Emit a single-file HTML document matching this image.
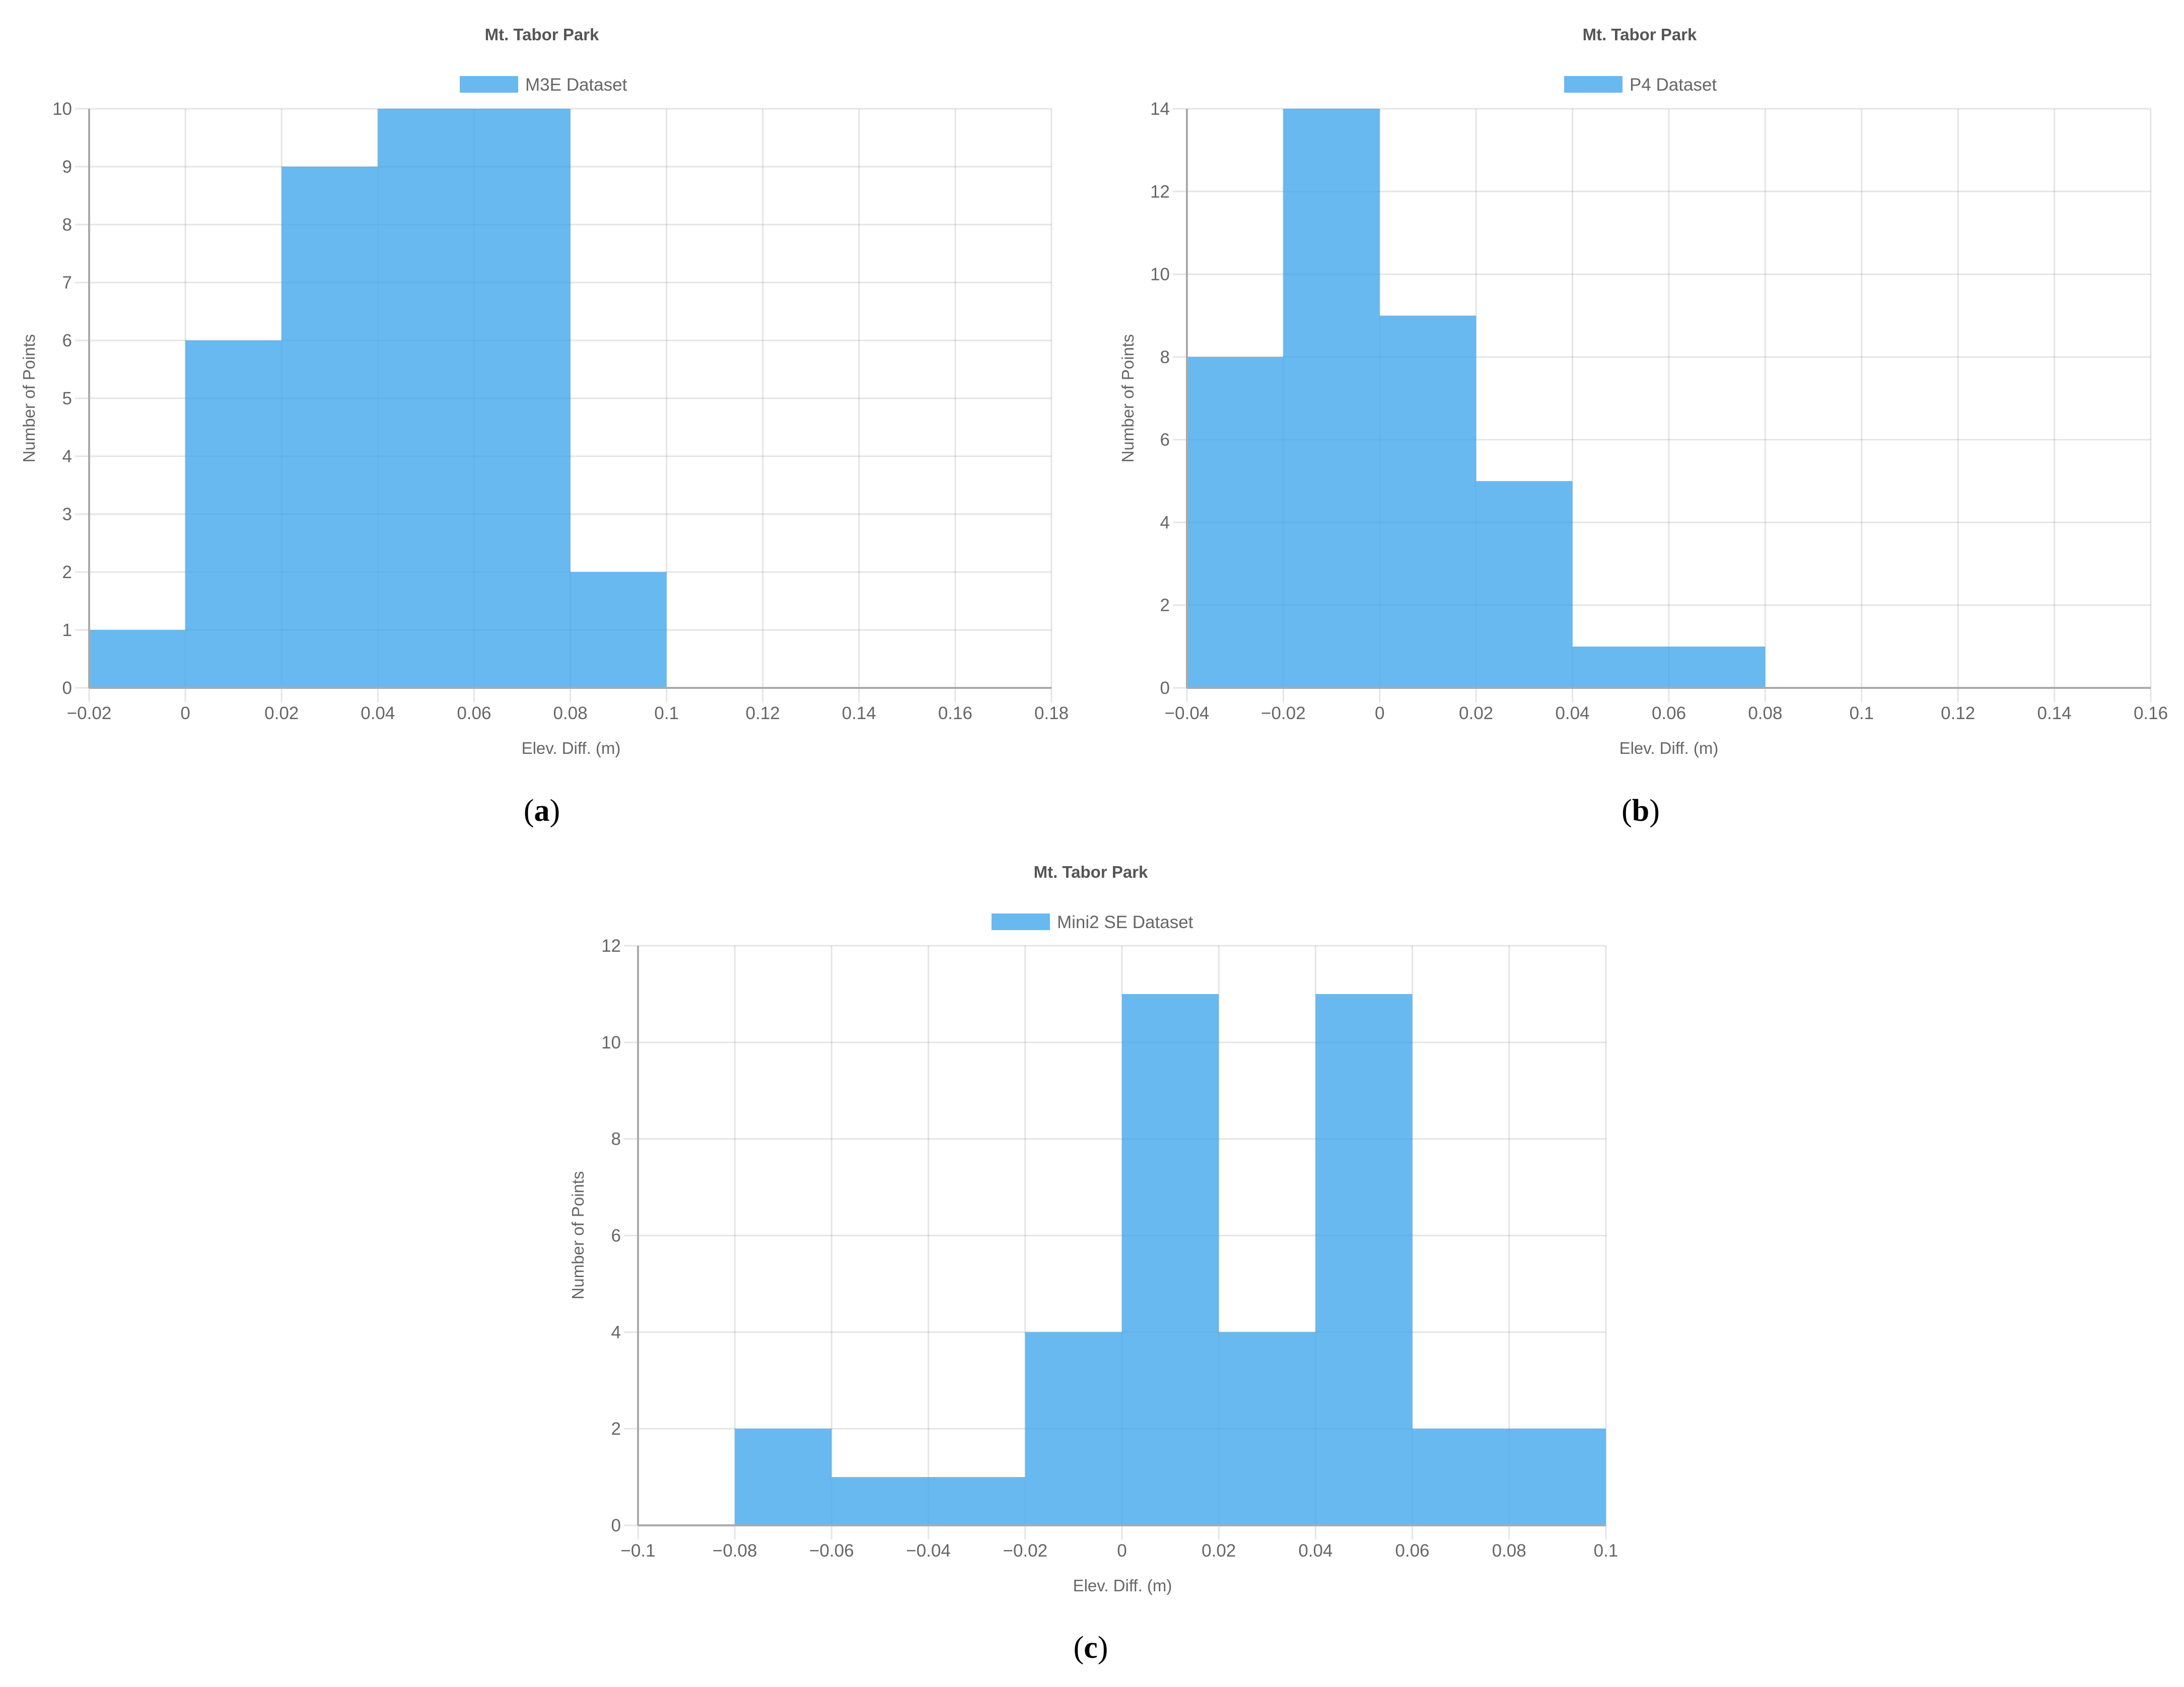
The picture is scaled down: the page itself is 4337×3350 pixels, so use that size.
<!DOCTYPE html>
<html><head><meta charset="utf-8"><style>
html,body{margin:0;padding:0;background:#fff;}
svg{display:block;font-family:"Liberation Sans",Arial,sans-serif;}
</style></head><body>
<svg id="fig" width="4337" height="3350" viewBox="0 0 4337 3350" xmlns="http://www.w3.org/2000/svg"></svg>
<script>
// Chart (a) data
const aCounts = [1, 6, 9, 10, 10, 2, 0, 0, 0, 0];
const aXTicks = [-0.02, 0, 0.02, 0.04, 0.06, 0.08, 0.1, 0.12, 0.14, 0.16, 0.18];
const aYTicks = [0,1,2,3,4,5,6,7,8,9,10];
// Chart (b) data
const bCounts = [8, 14, 9, 5, 1, 1, 0, 0, 0, 0];
const bXTicks = [-0.04, -0.02, 0, 0.02, 0.04, 0.06, 0.08, 0.1, 0.12, 0.14, 0.16];
const bYTicks = [0,2,4,6,8,10,12,14];
// Chart (c) data
const cCounts = [0, 2, 1, 1, 4, 11, 4, 11, 2, 2];
const cXTicks = [-0.1, -0.08, -0.06, -0.04, -0.02, 0, 0.02, 0.04, 0.06, 0.08, 0.1];
const cYTicks = [0,2,4,6,8,10,12];

const NS = "http://www.w3.org/2000/svg";
const svg = document.getElementById("fig");
function mk(tag, attrs, parent, text){
  const e = document.createElementNS(NS, tag);
  for (const k in attrs) e.setAttribute(k, attrs[k]);
  if (text !== undefined) e.textContent = text;
  (parent || svg).appendChild(e);
  return e;
}
function fmt(v){
  let s = String(Math.round(v*1000)/1000);
  return s.replace("-", "\u2212");
}
function chart(id, cfg){
  const g = mk("g", {});
  
  
  const {L,R,T,B,xTicks,yTicks,counts,label,tx,lx,lbox,xl,cap,capx,ylx,yly,ty,lty,caption} = cfg;
  const xmin = xTicks[0], xmax = xTicks[xTicks.length-1];
  const ymax = yTicks[yTicks.length-1];
  const X = v => L + (v - xmin) / (xmax - xmin) * (R - L);
  const Y = v => B - v / ymax * (B - T);
  // grid
  yTicks.forEach(t => {
    const l = mk("line", {x1: L-28, x2: R, y1: Y(t), y2: Y(t), stroke: "rgba(0,0,0,0.1)", "stroke-width": 3}, g);
    
    
    const tl = mk("text", {x: L-34, y: Y(t)+12, "text-anchor": "end", "font-size": 35, fill: "#666"}, g, String(t));
    
    
  });
  xTicks.forEach(t => {
    const l = mk("line", {x1: X(t), x2: X(t), y1: T, y2: B+28, stroke: "rgba(0,0,0,0.1)", "stroke-width": 3}, g);
    
    
    const tl = mk("text", {x: X(t), y: B+62, "text-anchor": "middle", "font-size": 35, fill: "#666"}, g, fmt(t));
    
    
  });
  // bars
  const bw = (xTicks[1] - xTicks[0]);
  counts.forEach((c, i) => {
    if (c <= 0) return;
    const x0 = X(xmin + i*bw), x1 = X(xmin + (i+1)*bw);
    const r = mk("rect", {x: x0, y: Y(c), width: x1-x0, height: B - Y(c), fill: "rgba(54,162,235,0.75)"}, g);
    
    
  });
  // axes
  const ax = mk("line", {x1: L, x2: L, y1: T, y2: B, stroke: "#aaa", "stroke-width": 4}, g);
  
  
  const bx = mk("line", {x1: L, x2: R, y1: B, y2: B, stroke: "#aaa", "stroke-width": 4}, g);
  
  
  // title
  const t = mk("text", {x: tx, y: ty, "text-anchor": "middle", "font-size": 33, "font-weight": "bold", fill: "#555"}, g, "Mt. Tabor Park");
  
  
  // legend
  const lb = mk("rect", {x: lbox, y: lty-17, width: 116, height: 33, fill: "rgba(54,162,235,0.75)"}, g);
  
  
  const lt = mk("text", {x: lbox+130, y: lty+12, "font-size": 35, fill: "#666"}, g, label);
  
  
  // axis titles
  const xt = mk("text", {x: xl, y: B+131, "text-anchor": "middle", "font-size": 33, fill: "#666"}, g, "Elev. Diff. (m)");
  
  
  const yt = mk("text", {x: ylx, y: yly, "text-anchor": "middle", "font-size": 33, fill: "#666", transform: `rotate(-90 ${ylx} ${yly})`, dy: 11}, g, "Number of Points");
  
  
  // caption
  const cp = mk("text", {x: capx, y: cap+20, "text-anchor": "middle", "font-size": 62, fill: "#000", "font-family": "Liberation Serif, serif"}, g);
  
  
  mk("tspan", {}, cp, "(");
  mk("tspan", {"font-weight": "bold"}, cp, caption);
  mk("tspan", {}, cp, ")");
}
chart("chart-a", {L:177,R:2088,T:216,B:1366,xTicks:aXTicks,yTicks:aYTicks,counts:aCounts,label:"M3E Dataset",
  tx:1076,ty:80,lbox:913,lty:168,xl:1134,cap:1610,capx:1076,ylx:58,yly:791,caption:"a"});
chart("chart-b", {L:2357,R:4271,T:216,B:1366,xTicks:bXTicks,yTicks:bYTicks,counts:bCounts,label:"P4 Dataset",
  tx:3256,ty:80,lbox:3106,lty:168,xl:3314,cap:1610,capx:3258,ylx:2240,yly:791,caption:"b"});
chart("chart-c", {L:1267,R:3189,T:1878,B:3029,xTicks:cXTicks,yTicks:cYTicks,counts:cCounts,label:"Mini2 SE Dataset",
  tx:2166,ty:1743,lbox:1969,lty:1831,xl:2229,cap:3272,capx:2166,ylx:1148,yly:2453,caption:"c"});
</script>
</body></html>
